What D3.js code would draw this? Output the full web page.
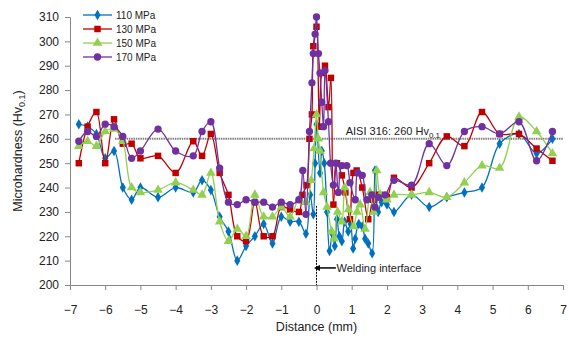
<!DOCTYPE html>
<html>
<head>
<meta charset="utf-8">
<script src="https://cdn.jsdelivr.net/npm/d3@7"></script>
<style>
  body { margin: 0; background: #fff; }
  text { font-family: "Liberation Sans", Arial, sans-serif; fill: #222; }
</style>
</head>
<body>
<div id="chart"></div>
<script>
// distances (mm) and microhardness (Hv0.1), one pair of arrays per load
const d110 = [-6.75, -6.5, -6.25, -6.0, -5.75, -5.5, -5.25, -5.0, -4.5, -4.0, -3.5, -3.25, -3.0, -2.75, -2.5, -2.25, -2.0, -1.75, -1.5, -1.25, -1.0, -0.75, -0.5, -0.3, -0.18, -0.09, -0.04, 0.0, 0.1, 0.15, 0.22, 0.3, 0.37, 0.45, 0.52, 0.58, 0.65, 0.72, 0.8, 0.9, 0.97, 1.04, 1.1, 1.2, 1.3, 1.38, 1.47, 1.58, 1.66, 1.75, 1.85, 2.0, 2.2, 2.7, 3.2, 3.7, 4.2, 4.7, 5.2, 5.75, 6.25, 6.7];
const v110 = [266, 265, 262, 252, 255, 240, 235, 240, 236, 240, 238, 243, 239, 228, 222, 210, 216, 220, 225, 217, 228, 226, 226, 221, 237, 229, 250, 266, 246, 255, 250, 230, 214, 221, 216, 227, 220, 218, 226, 222, 225, 215, 219, 225, 224, 219, 217, 213, 247, 230, 234, 233, 230, 237, 232, 236, 238, 240, 258, 262, 254, 260];

const d130 = [-6.75, -6.5, -6.25, -6.0, -5.75, -5.5, -5.25, -5.0, -4.5, -4.0, -3.5, -3.25, -3.0, -2.75, -2.5, -2.25, -2.0, -1.75, -1.5, -1.25, -1.0, -0.75, -0.5, -0.4, -0.28, -0.2, -0.13, -0.09, 0.0, 0.08, 0.15, 0.24, 0.34, 0.41, 0.48, 0.58, 0.72, 0.82, 0.95, 1.05, 1.14, 1.3, 1.47, 1.6, 1.7, 1.81, 2.0, 2.2, 2.7, 3.2, 3.7, 4.2, 4.7, 5.2, 5.75, 6.25, 6.7];
const v130 = [250, 265, 271, 250, 268, 258, 258, 252, 253, 246, 259, 253, 262, 246, 237, 220, 218, 234, 220, 220, 232, 231, 230, 237, 241, 260, 270, 298, 306, 265, 287, 290, 273, 285, 233, 250, 245, 238, 227, 246, 247, 240, 227, 235, 237, 237, 236, 244, 240, 250, 261, 257, 271, 262, 262, 256, 251];

const d150 = [-6.75, -6.5, -6.25, -6.0, -5.75, -5.5, -5.25, -5.0, -4.5, -4.0, -3.5, -3.25, -3.0, -2.75, -2.5, -2.25, -2.0, -1.75, -1.5, -1.25, -1.0, -0.75, -0.5, -0.3, -0.15, -0.07, 0.0, 0.05, 0.1, 0.2, 0.3, 0.43, 0.5, 0.6, 0.72, 0.8, 0.91, 1.05, 1.15, 1.24, 1.38, 1.52, 1.62, 1.71, 1.81, 2.0, 2.2, 2.7, 3.2, 3.7, 4.2, 4.7, 5.2, 5.75, 6.25, 6.7];
const v150 = [257, 259, 257, 263, 264, 259, 240, 238, 239, 242, 239, 237, 246, 226, 218, 223, 220, 237, 228, 228, 232, 228, 235, 234, 243, 256, 270, 260, 255, 238, 232, 222, 219, 230, 226, 240, 231, 224, 230, 233, 223, 238, 230, 247, 237, 235, 237, 237, 238, 236, 242, 249, 248, 269, 263, 254];

const d170 = [-6.75, -6.5, -6.25, -6.0, -5.75, -5.5, -5.25, -5.0, -4.5, -4.0, -3.5, -3.25, -3.0, -2.75, -2.5, -2.25, -2.0, -1.75, -1.5, -1.25, -1.0, -0.75, -0.5, -0.39, -0.3, -0.2, -0.13, -0.09, -0.04, 0.0, 0.055, 0.1, 0.15, 0.2, 0.24, 0.34, 0.4, 0.48, 0.55, 0.62, 0.72, 0.86, 0.95, 1.1, 1.17, 1.3, 1.43, 1.57, 1.66, 1.76, 1.95, 2.2, 2.7, 3.2, 3.7, 4.2, 4.7, 5.2, 5.75, 6.25, 6.7];
const v170 = [259, 263, 261, 266, 265, 261, 252, 255, 264, 255, 253, 263, 267, 248, 234, 233, 235, 234, 234, 232, 234, 233, 235, 247, 229, 263, 283, 295, 303, 310, 295, 287, 275, 265, 288, 267, 250, 241, 250, 238, 249, 249, 242, 235, 246, 245, 235, 237, 232, 236, 237, 243, 241, 258, 249, 263, 265, 262, 267, 251, 263];

const seriesNames = ["110 MPa", "130 MPa", "150 MPa", "170 MPa"];
const seriesColors = ["#0070C0", "#C00000", "#92D050", "#7030A0"];
const seriesSymbols = [d3.symbolDiamond, d3.symbolSquare, d3.symbolTriangle, d3.symbolCircle];
const symbolSizes = [32, 42, 40, 42];

const xTicks = d3.range(-7, 8, 1);
const yTicks = d3.range(200, 311, 10);
const refValue = 260;

const series = [
  [d110, v110], [d130, v130], [d150, v150], [d170, v170]
].map(([ds, vs], i) => ({
  name: seriesNames[i],
  color: seriesColors[i],
  symbol: seriesSymbols[i],
  size: symbolSizes[i],
  points: ds.map((d, j) => ({ d: d, v: vs[j] }))
}));

const W = 569, H = 345;
const margin = { top: 17, right: 6, bottom: 60, left: 70 };

const svg = d3.select("#chart").append("svg")
  .attr("width", W).attr("height", H);

const x = d3.scaleLinear().domain([-7, 7]).range([margin.left, W - margin.right]);
const y = d3.scaleLinear().domain([200, 310]).range([H - margin.bottom, margin.top]);

// axes
const axisColor = "#868686";
const yAxis = svg.append("g")
  .attr("transform", "translate(" + margin.left + ",0)")
  .call(d3.axisLeft(y).tickValues(yTicks).tickSize(5).tickPadding(6));
const xAxis = svg.append("g")
  .attr("transform", "translate(0," + (H - margin.bottom) + ")")
  .call(d3.axisBottom(x).tickValues(xTicks).tickSize(5).tickPadding(15));
[yAxis, xAxis].forEach(g => {
  g.select(".domain").attr("stroke", axisColor);
  g.selectAll(".tick line").attr("stroke", axisColor);
  g.selectAll(".tick text").attr("font-size", 12).style("fill", "#222")
    .attr("font-family", "Liberation Sans, Arial, sans-serif");
});

// reference line at 260
svg.append("line")
  .attr("x1", x(-5.72)).attr("x2", x(7))
  .attr("y1", y(refValue)).attr("y2", y(refValue))
  .attr("stroke", "#7f7f7f").attr("stroke-width", 2)
  .attr("stroke-dasharray", "1.5,0.8");

const refLabel = svg.append("text")
  .attr("x", x(0.83)).attr("y", y(refValue) - 4)
  .attr("font-size", 11);
refLabel.append("tspan").text("AISI 316: 260 Hv");
refLabel.append("tspan").attr("font-size", 8).attr("dy", 3).text("0.1");

// welding interface marker
svg.append("line")
  .attr("x1", x(0)).attr("x2", x(0))
  .attr("y1", y(232.5)).attr("y2", y(200))
  .attr("stroke", "#000").attr("stroke-width", 1)
  .attr("stroke-dasharray", "2,1");

svg.append("defs").append("marker")
  .attr("id", "arrowhead")
  .attr("viewBox", "0 0 10 10")
  .attr("refX", 1).attr("refY", 5)
  .attr("markerWidth", 5).attr("markerHeight", 4)
  .attr("orient", "auto-start-reverse")
  .append("path").attr("d", "M0,0 L10,5 L0,10 z").attr("fill", "#000");

svg.append("line")
  .attr("x1", x(0.55)).attr("x2", x(0.08))
  .attr("y1", y(207)).attr("y2", y(207))
  .attr("stroke", "#000").attr("stroke-width", 1.5)
  .attr("marker-end", "url(#arrowhead)");

svg.append("text")
  .attr("x", x(0.57)).attr("y", y(207) + 4)
  .attr("font-size", 11)
  .text("Welding interface");

// series
const line = d3.line()
  .x(p => x(p.d)).y(p => y(p.v))
  .curve(d3.curveCatmullRom.alpha(0.5));

series.forEach(s => {
  const g = svg.append("g");
  g.append("path")
    .datum(s.points)
    .attr("fill", "none")
    .attr("stroke", s.color)
    .attr("stroke-width", 1.3)
    .attr("d", line);
  g.selectAll("path.pt")
    .data(s.points)
    .enter().append("path")
    .attr("class", "pt")
    .attr("transform", p => "translate(" + x(p.d) + "," + y(p.v) + ")")
    .attr("d", d3.symbol().type(s.symbol).size(s.size))
    .attr("fill", s.color);
});

// legend
const legend = svg.append("g").attr("transform", "translate(83,15)");
series.forEach((s, i) => {
  const row = legend.append("g").attr("transform", "translate(0," + (i * 14) + ")");
  row.append("line").attr("x1", 0).attr("x2", 29).attr("y1", 0).attr("y2", 0)
    .attr("stroke", s.color).attr("stroke-width", 1.3);
  row.append("path").attr("transform", "translate(14.5,0)")
    .attr("d", d3.symbol().type(s.symbol).size(s.size)).attr("fill", s.color);
  row.append("text").attr("x", 33).attr("y", 4).attr("font-size", 10).text(s.name);
});

// axis titles
const yTitle = svg.append("text")
  .attr("transform", "translate(22," + ((margin.top + H - margin.bottom) / 2) + ") rotate(-90)")
  .attr("text-anchor", "middle")
  .attr("font-size", 12.5);
yTitle.append("tspan").text("Microhardness (Hv");
yTitle.append("tspan").attr("font-size", 9).attr("dy", 3).text("0.1");
yTitle.append("tspan").attr("dy", -3).text(")");

svg.append("text")
  .attr("x", x(0)).attr("y", 331)
  .attr("text-anchor", "middle")
  .attr("font-size", 12.5)
  .text("Distance (mm)");
</script>
</body>
</html>
